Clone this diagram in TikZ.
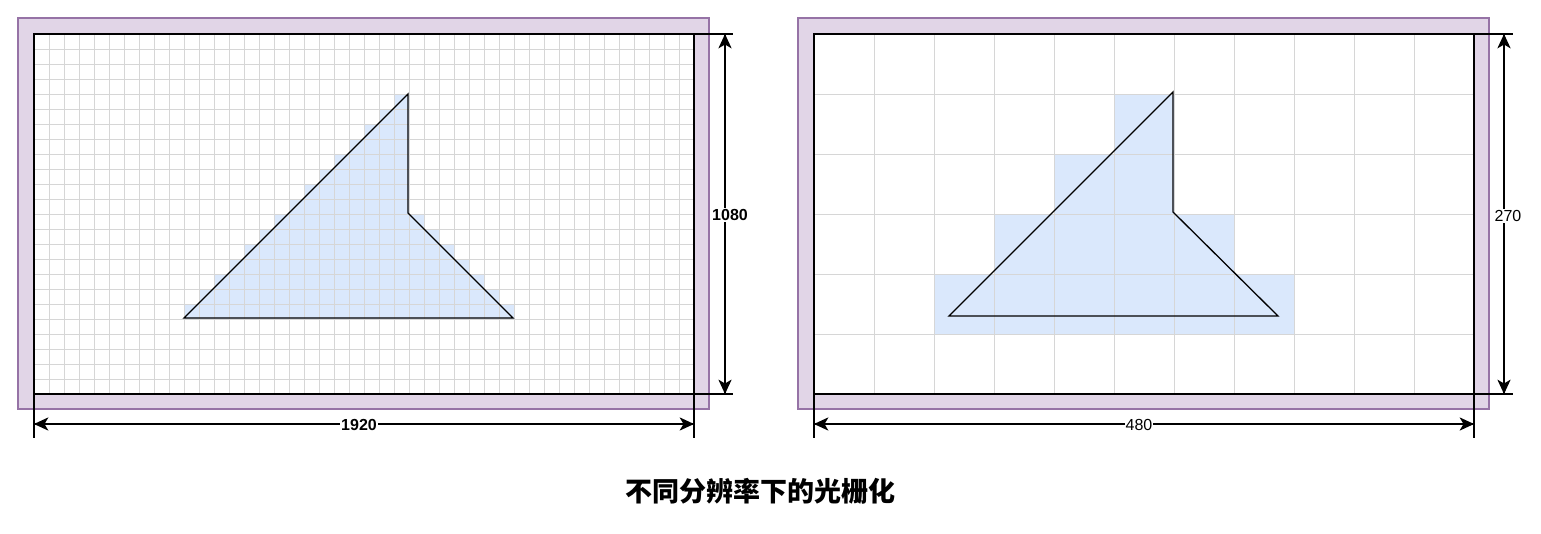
\documentclass[tikz,border=0pt]{standalone}
\usepackage{fontspec}
\setmainfont{Liberation Sans}
\newfontfamily\cjk{Noto Sans CJK SC}
\usetikzlibrary{arrows.meta}
\definecolor{purplefill}{HTML}{E1D5E7}
\definecolor{purpleline}{HTML}{9673A6}
\definecolor{cellblue}{HTML}{DAE8FC}
\tikzset{
  frame/.style={fill=purplefill, draw=purpleline, line width=1.2pt},
  screenfill/.style={fill=white, rectangle, minimum width=660pt, minimum height=360pt, inner sep=0pt, outer sep=0pt},
  gridline/.style={draw=black!16, line width=0.7pt},
  cell/.style={fill=cellblue},
  outline/.style={draw=black, line width=1.3pt, line join=miter},
  extline/.style={draw=black, line width=1.1pt},
  dimarrow/.style={draw=black, line width=1.1pt},
  headpic/.pic={\fill[black] (0,0) -- (-14.5,-6.7) -- (-10.5,0) -- (-14.5,6.7) -- cycle;},
  dimlabel/.style={fill=white, inner sep=1pt, font=\fontsize{16}{18}\selectfont},
  boldlabel/.style={dimlabel, font=\fontsize{16}{18}\selectfont\bfseries},
}
\begin{document}
\begin{tikzpicture}[x=1pt,y=-1pt]
\useasboundingbox (0,0) rectangle (1541,533);

% ---------- left panel (1920 x 1080) ----------
\draw[frame] (18,18) rectangle (709,409);
\node[screenfill] (L) at (364,214) {};
\foreach \r in {4,...,18}{
  \pgfmathtruncatemacro\cl{28-\r}
  \pgfmathtruncatemacro\cr{\r<12 ? 25 : \r+14}
  \fill[cell] ({34+15*\cl},{34+15*\r}) rectangle ({34+15*\cr},{34+15*\r+15});
}
\foreach \i in {1,...,43} \draw[gridline] ({34+15*\i},34) -- ({34+15*\i},394);
\foreach \j in {1,...,23} \draw[gridline] (34,{34+15*\j}) -- (694,{34+15*\j});
\draw[outline] (184,318) -- (408,94) -- (408,213) -- (513,318) -- cycle;
\draw[extline] (L.north west) rectangle (L.south east);

\coordinate (LxT1) at (694,34);  \coordinate (LxT2) at (733,34);
\coordinate (LxB1) at (694,394); \coordinate (LxB2) at (733,394);
\coordinate (LyL1) at (34,394);  \coordinate (LyL2) at (34,438);
\coordinate (LyR1) at (694,394); \coordinate (LyR2) at (694,438);
\draw[extline] (LxT1) -- (LxT2);
\draw[extline] (LxB1) -- (LxB2);
\draw[extline] (LyL1) -- (LyL2);
\draw[extline] (LyR1) -- (LyR2);
\coordinate (LvT) at (725,34);  \coordinate (LvB) at (725,394);
\coordinate (LhL) at (34,424);  \coordinate (LhR) at (694,424);
\draw[dimarrow] (LvT) -- (LvB) node[midway, boldlabel, xshift=5pt, yshift=-1pt] (L1080) {1080};
\draw[dimarrow] (LhL) -- (LhR) node[midway, boldlabel, xshift=-5pt, yshift=-1pt] (L1920) {1920};
\pic[rotate=90]  at (LvT) {headpic};
\pic[rotate=-90] at (LvB) {headpic};
\pic[rotate=180] at (LhL) {headpic};
\pic             at (LhR) {headpic};

% ---------- right panel (480 x 270) ----------
\draw[frame] (798,18) rectangle (1489,409);
\node[screenfill] (R) at (1144,214) {};
\fill[cell] (1114,94)  rectangle (1174,154);
\fill[cell] (1054,154) rectangle (1174,214);
\fill[cell] (994,214)  rectangle (1234,274);
\fill[cell] (934,274)  rectangle (1294,334);
\foreach \i in {1,...,10} \draw[gridline] ({814+60*\i},34) -- ({814+60*\i},394);
\foreach \j in {1,...,5} \draw[gridline] (814,{34+60*\j}) -- (1474,{34+60*\j});
\draw[outline] (949,316) -- (1173,92) -- (1173,212) -- (1278,316) -- cycle;
\draw[extline] (R.north west) rectangle (R.south east);

\coordinate (RxT1) at (1474,34);  \coordinate (RxT2) at (1513,34);
\coordinate (RxB1) at (1474,394); \coordinate (RxB2) at (1513,394);
\coordinate (RyL1) at (814,394);  \coordinate (RyL2) at (814,438);
\coordinate (RyR1) at (1474,394); \coordinate (RyR2) at (1474,438);
\draw[extline] (RxT1) -- (RxT2);
\draw[extline] (RxB1) -- (RxB2);
\draw[extline] (RyL1) -- (RyL2);
\draw[extline] (RyR1) -- (RyR2);
\coordinate (RvT) at (1504,34);  \coordinate (RvB) at (1504,394);
\coordinate (RhL) at (814,424);  \coordinate (RhR) at (1474,424);
\draw[dimarrow] (RvT) -- (RvB) node[midway, dimlabel, xshift=4pt, yshift=-2pt] (R270) {270};
\draw[dimarrow] (RhL) -- (RhR) node[midway, dimlabel, xshift=-5pt, yshift=-1pt] (R480) {480};
\pic[rotate=90]  at (RvT) {headpic};
\pic[rotate=-90] at (RvB) {headpic};
\pic[rotate=180] at (RhL) {headpic};
\pic             at (RhR) {headpic};

% ---------- title ----------
\node (title) at (760,491) {\cjk\bfseries\fontsize{27}{30}\selectfont 不同分辨率下的光栅化};
\end{tikzpicture}
\end{document}
